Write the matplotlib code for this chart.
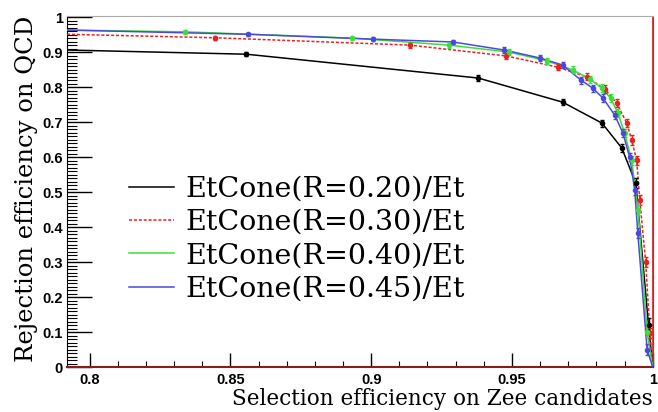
import numpy as np
import matplotlib
matplotlib.use("Agg")
from matplotlib import pyplot as plt
from matplotlib.ticker import MultipleLocator

# ROC-like curves, values
x20 = [0.792, 0.8557, 0.938, 0.968, 0.982, 0.989, 0.994, 0.9985, 1.0]
y20 = [0.906, 0.894, 0.826, 0.757, 0.697, 0.626, 0.525, 0.12, 0.0]
e20 = [0.004, 0.006, 0.008, 0.009, 0.010, 0.012, 0.014, 0.02, 0.0]

x30 = [0.792, 0.8447, 0.9138, 0.948, 0.9663, 0.9766, 0.983, 0.9872, 0.9908, 0.9925, 0.9943, 0.9954, 0.9975, 0.999, 1.0]
y30 = [0.951, 0.941, 0.920, 0.889, 0.857, 0.829, 0.794, 0.754, 0.697, 0.649, 0.591, 0.477, 0.30, 0.097, 0.0]
e30 = [0.003, 0.006, 0.007, 0.008, 0.009, 0.010, 0.011, 0.012, 0.012, 0.013, 0.013, 0.014, 0.015, 0.015, 0.0]

x40 = [0.792, 0.834, 0.8933, 0.9277, 0.949, 0.9624, 0.9716, 0.9777, 0.9819, 0.985, 0.9876, 0.990, 0.9925, 0.9948, 0.998, 1.0]
y40 = [0.963, 0.958, 0.940, 0.920, 0.900, 0.875, 0.849, 0.823, 0.797, 0.769, 0.726, 0.669, 0.591, 0.45, 0.10, 0.0]
e40 = [0.003, 0.005, 0.006, 0.007, 0.008, 0.009, 0.010, 0.010, 0.011, 0.011, 0.012, 0.012, 0.013, 0.014, 0.015, 0.0]

x45 = [0.792, 0.8564, 0.9007, 0.929, 0.9472, 0.960, 0.968, 0.9745, 0.9787, 0.9823, 0.9865, 0.9894, 0.9918, 0.9936, 0.9947, 0.998, 1.0]
y45 = [0.963, 0.951, 0.937, 0.929, 0.906, 0.883, 0.863, 0.820, 0.797, 0.769, 0.720, 0.669, 0.600, 0.506, 0.383, 0.05, 0.0]
e45 = [0.003, 0.005, 0.006, 0.007, 0.008, 0.009, 0.009, 0.010, 0.010, 0.011, 0.011, 0.012, 0.012, 0.013, 0.014, 0.015, 0.0]

labels = ["EtCone(R=0.20)/Et", "EtCone(R=0.30)/Et", "EtCone(R=0.40)/Et", "EtCone(R=0.45)/Et"]

fig = plt.figure(figsize=(6.58, 4.12), dpi=100)
ax = fig.add_axes([0.102, 0.109, 0.890, 0.852])

series = [(x20, y20, e20, "black", "-"),
          (x30, y30, e30, "#e8231f", (0, (2, 1.2))),
          (x40, y40, e40, "#3fdc3f", "-"),
          (x45, y45, e45, "#4a4ad8", "-")]

handles = []
for (xx, yy, ee, c, ls), lab in zip(series, labels):
    ln, = ax.plot(xx, yy, color=c, ls=ls, lw=1.1, zorder=3)
    ax.errorbar(xx[1:-1], yy[1:-1], yerr=ee[1:-1], fmt="o", ms=3, color=c,
                elinewidth=1.0, capsize=1.5, zorder=4)
    handles.append(ln)

ax.axvline(1.0, color="#d42020", lw=1.2, zorder=2)

ax.set_xlim(0.792, 1.0)
ax.set_ylim(0, 1.003)

ax.xaxis.set_minor_locator(MultipleLocator(0.01))
ax.yaxis.set_minor_locator(MultipleLocator(0.01))
ax.set_xticks([0.8, 0.85, 0.9, 0.95, 1.0])
ax.set_xticklabels(["0.8", "0.85", "0.9", "0.95", "1"])
ax.set_yticks(np.arange(0, 1.01, 0.1))
ax.set_yticklabels(["0", "0.1", "0.2", "0.3", "0.4", "0.5", "0.6", "0.7", "0.8", "0.9", "1"])

ax.tick_params(axis="both", which="both", direction="in", top=False, right=False)
ax.tick_params(axis="y", which="major", length=18, width=1.0, pad=3)
ax.tick_params(axis="y", which="minor", length=7, width=0.8)
ax.tick_params(axis="x", which="major", length=10, width=1.0, pad=4)
ax.tick_params(axis="x", which="minor", length=4, width=0.8)
for t in ax.get_xticklabels() + ax.get_yticklabels():
    t.set_fontweight("bold")
    t.set_fontsize(10.5)
    t.set_family("Liberation Sans")

ax.spines["top"].set_color("#aaaaaa")
ax.spines["right"].set_color("#d42020")
ax.spines["bottom"].set_color("#8b1a1a")
ax.spines["bottom"].set_linewidth(1.5)
ax.spines["left"].set_color("black")

ax.set_xlabel("Selection efficiency on Zee candidates", family="DejaVu Serif",
              fontsize=15.5, ha="right")
ax.xaxis.set_label_coords(1.0, -0.06)
ax.set_ylabel("Rejection efficiency on QCD", family="DejaVu Serif",
              fontsize=17.5, loc="top", labelpad=3)

leg = ax.legend(handles, labels, loc="upper left", bbox_to_anchor=(0.105, 0.545),
                frameon=False, prop={"family": "DejaVu Serif", "size": 20.5},
                handlelength=1.6, handletextpad=0.4, labelspacing=0.22,
                borderpad=0, borderaxespad=0)

fig.savefig("out.png", dpi=100)
